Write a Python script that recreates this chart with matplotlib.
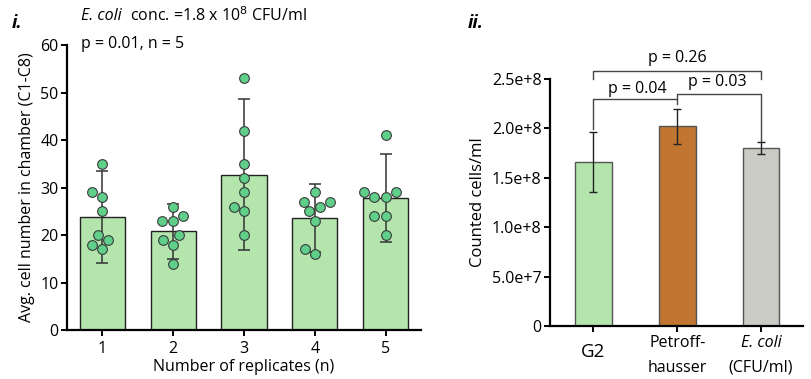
import matplotlib
matplotlib.use("Agg")
import matplotlib.pyplot as plt
import seaborn as sns
import pandas as pd

# =========================
# DATA
# =========================

replicates = ["1", "2", "3", "4", "5"]
bar_means = [23.8, 20.8, 32.7, 23.7, 27.9]
err_low = [14.2, 15.0, 16.8, 16.5, 18.6]
err_high = [33.4, 26.6, 48.6, 30.8, 37.0]

dots_1 = [35, 29, 28, 25, 20, 19, 18, 17]
dots_2 = [26, 24, 23, 23, 20, 19, 18, 14]
dots_3 = [53, 42, 35, 32, 29, 26, 25, 20]
dots_4 = [29, 27, 27, 26, 25, 23, 17, 16]
dots_5 = [41, 29, 29, 28, 28, 24, 24, 20]
all_dots = [dots_1, dots_2, dots_3, dots_4, dots_5]

methods = ["G2", "Petroff-", "E. coli"]
methods_line2 = ["", "hausser", "(CFU/ml)"]
counts = [1.66e8, 2.02e8, 1.80e8]
count_err = [0.30e8, 0.175e8, 0.06e8]
method_colors = ["#b3e5ad", "#c07530", "#cbcbc6"]

p_texts = ["p = 0.26", "p = 0.04", "p = 0.03"]

# =========================
# STYLE
# =========================

plt.rcParams["font.family"] = ["Open Sans", "DejaVu Sans"]
plt.rcParams["axes.linewidth"] = 1.6
plt.rcParams["xtick.major.width"] = 1.4
plt.rcParams["ytick.major.width"] = 1.4
plt.rcParams["xtick.major.size"] = 4
plt.rcParams["ytick.major.size"] = 4

fig = plt.figure(figsize=(8.11, 3.79), dpi=100)

# =========================
# PANEL i
# =========================

ax1 = fig.add_axes([0.0826, 0.129, 0.4365, 0.752])

x_pos = list(range(len(replicates)))
ax1.bar(x_pos, bar_means, width=0.64, color="#b3e5ad",
        edgecolor="#222222", linewidth=1.0, zorder=1)

lower = [m - lo for m, lo in zip(bar_means, err_low)]
upper = [hi - m for m, hi in zip(bar_means, err_high)]
ax1.errorbar(x_pos, bar_means, yerr=[lower, upper], fmt="none",
             ecolor="#333333", elinewidth=1.1, capsize=4.3,
             capthick=1.1, zorder=2)

long_df = pd.DataFrame({
    "rep": [r for r, d in zip(replicates, all_dots) for _ in d],
    "val": [v for d in all_dots for v in d],
})
sns.swarmplot(data=long_df, x="rep", y="val", order=replicates, ax=ax1,
              color="#5fcf8a", edgecolor="#3a3a3a", linewidth=0.8,
              size=7, zorder=3)

ax1.set_xlim(-0.5, 4.5)
ax1.set_ylim(0, 60)
ax1.set_yticks([0, 10, 20, 30, 40, 50, 60])
ax1.set_xticks(x_pos)
ax1.set_xticklabels(replicates, fontsize=11.5)
ax1.tick_params(axis="y", labelsize=11.5, pad=2)
ax1.tick_params(axis="x", pad=4)
ax1.spines["top"].set_visible(False)
ax1.spines["right"].set_visible(False)
ax1.set_xlabel("Number of replicates (n)", fontsize=11.5, labelpad=1)
ax1.set_ylabel("Avg. cell number in chamber (C1-C8)", fontsize=11.5,
               labelpad=4)

fig.text(0.014, 0.94, "i.", fontsize=13, fontweight="bold",
         style="italic", va="center")
fig.text(0.100, 0.958, "E. coli", fontsize=11.5, style="italic",
         va="center")
fig.text(0.160, 0.958, "conc. =1.8 x 10$^{8}$ CFU/ml", fontsize=11.5,
         va="center")
fig.text(0.100, 0.885, "p = 0.01, n = 5", fontsize=11.5, va="center")

# =========================
# PANEL ii
# =========================

ax2 = fig.add_axes([0.678, 0.140, 0.312, 0.652])

m_pos = list(range(len(methods)))
ax2.bar(m_pos, counts, width=0.44, color=method_colors,
        edgecolor="#555555", linewidth=1.0, zorder=1)
ax2.errorbar(m_pos, counts, yerr=count_err, fmt="none", ecolor="#222222",
             elinewidth=1.0, capsize=2.6, capthick=1.0, zorder=2)

ax2.set_xlim(-0.52, 2.5)
ax2.set_ylim(0, 2.5e8)
ax2.set_yticks([0, 0.5e8, 1.0e8, 1.5e8, 2.0e8, 2.5e8])
ax2.set_yticklabels(["0", "5.0e+7", "1.0e+8", "1.5e+8", "2.0e+8",
                     "2.5e+8"])
ax2.tick_params(axis="y", labelsize=11.5, pad=2)
ax2.set_xticks(m_pos)
ax2.set_xticklabels([])
ax2.spines["top"].set_visible(False)
ax2.spines["right"].set_visible(False)
ax2.set_ylabel("Counted cells/ml", fontsize=12, labelpad=4)

# category labels
ax2.text(0, -0.263e8, methods[0], fontsize=13.5, ha="center", va="center")
ax2.text(1, -0.172e8, methods[1], fontsize=11.5, ha="center", va="center")
ax2.text(1, -0.425e8, methods_line2[1], fontsize=11.5, ha="center",
         va="center")
ax2.text(2, -0.172e8, methods[2], fontsize=11.5, ha="center", va="center",
         style="italic")
ax2.text(2, -0.425e8, methods_line2[2], fontsize=11.5, ha="center",
         va="center")

# significance brackets
bk = dict(color="#444444", lw=1.0, clip_on=False)
ax2.plot([0, 0, 2, 2], [2.50e8, 2.58e8, 2.58e8, 2.50e8], **bk)
ax2.plot([0, 0, 1, 1], [1.99e8, 2.30e8, 2.30e8, 2.25e8], **bk)
ax2.plot([1, 1, 2, 2], [2.30e8, 2.35e8, 2.35e8, 1.87e8], **bk)
ax2.text(1, 2.71e8, p_texts[0], fontsize=11.5, ha="center", va="center")
ax2.text(0.52, 2.40e8, p_texts[1], fontsize=11.5, ha="center",
         va="center")
ax2.text(1.48, 2.47e8, p_texts[2], fontsize=11.5, ha="center",
         va="center")

fig.text(0.577, 0.94, "ii.", fontsize=13, fontweight="bold",
         style="italic", va="center")

fig.savefig("out.png", dpi=100)
